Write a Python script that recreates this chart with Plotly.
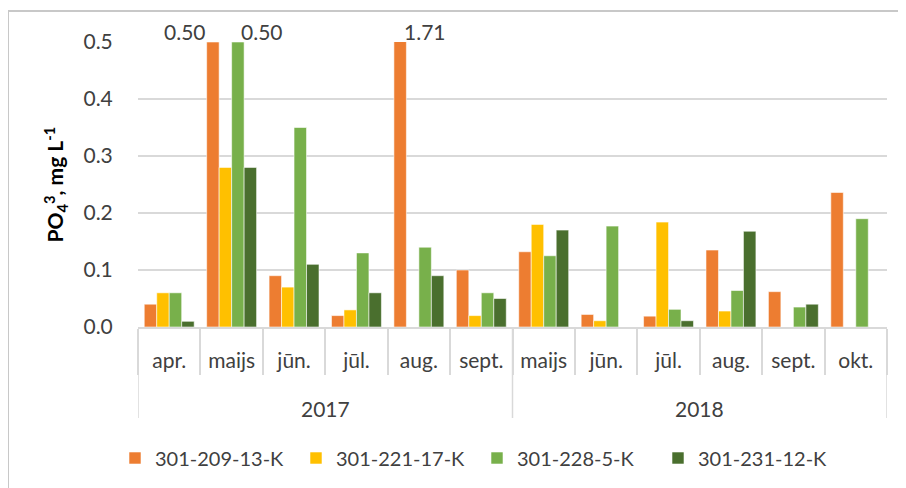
import plotly.graph_objects as go

years = ["2017", "2018"]
year_months = [6, 6]
months = ["apr.", "maijs", "jūn.", "jūl.", "aug.", "sept.",
          "maijs", "jūn.", "jūl.", "aug.", "sept.", "okt."]

series_names = ["301-209-13-K", "301-221-17-K", "301-228-5-K", "301-231-12-K"]
s_209 = [0.04, 0.50, 0.09, 0.02, 1.71, 0.10, 0.132, 0.022, 0.019, 0.135, 0.062, 0.236]
s_221 = [0.06, 0.28, 0.07, 0.03, None, 0.02, 0.180, 0.011, 0.184, 0.028, None, None]
s_228 = [0.06, 0.50, 0.35, 0.13, 0.14, 0.06, 0.125, 0.177, 0.031, 0.064, 0.035, 0.190]
s_231 = [0.01, 0.28, 0.11, 0.06, 0.09, 0.05, 0.170, None, 0.011, 0.168, 0.040, None]
colors = ["#ED7D31", "#FFC000", "#78B04B", "#4A6F2E"]

# value labels of clipped bars: (category index, series index, text, pixel shift)
value_labels = [(1, 0, "0.50", -28), (1, 2, "0.50", 24), (4, 0, "1.71", 25)]

FONT = "Lato, Carlito, Calibri, sans-serif"
TXT = "#404040"
GRID = "#d9d9d9"
W, H = 898, 480
ML, MR, MT, MB = 130, 19, 34, 161
PW, PH = W - ML - MR, H - MT - MB


def py(px):  # figure pixel row -> paper y
    return (MT + PH - px) / PH


def pxx(px):  # figure pixel column -> paper x
    return (px - ML) / PW


n = len(months)
xs = list(range(n))

fig = go.Figure()
for name, vals, col in zip(series_names, [s_209, s_221, s_228, s_231], colors):
    fig.add_trace(go.Bar(
        x=xs, y=vals, name=name,
        marker=dict(color=col, line=dict(color="rgba(255,255,255,0.8)", width=0.7)),
    ))

nser = len(series_names)
bargap = 0.2
slot = (1 - bargap) / nser
annotations = []
for ci, si, txt, shift in value_labels:
    annotations.append(dict(
        x=ci + (si - (nser - 1) / 2) * slot, xref="x", y=py(24), yref="paper",
        text=txt, showarrow=False, xshift=shift,
        font=dict(family=FONT, size=21, color=TXT), xanchor="center", yanchor="middle",
    ))

# year (outer category) labels and dividers
shapes = []
start = 0
bounds = [-0.5]
for yr, cnt in zip(years, year_months):
    annotations.append(dict(
        x=start + (cnt - 1) / 2, xref="x", y=py(400), yref="paper", text=yr,
        showarrow=False, font=dict(family=FONT, size=21, color=TXT),
        xanchor="center", yanchor="middle",
    ))
    start += cnt
    bounds.append(start - 0.5)
for b in bounds:
    shapes.append(dict(type="line", xref="x", yref="paper", x0=b, x1=b,
                       y0=0, y1=py(410), line=dict(color=GRID, width=1.5)))

# y-axis title
annotations.append(dict(
    x=pxx(47), xref="paper", y=0.5, yref="paper", textangle=-90,
    text="<b>PO<sub>4</sub><sup>3</sup>, mg L<sup>-1</sup></b>", showarrow=False,
    font=dict(family=FONT, size=21, color="#000000"), xanchor="center", yanchor="middle",
))

# outer chart border
shapes.append(dict(type="rect", xref="paper", yref="paper",
                   x0=pxx(0), x1=pxx(W + 10), y0=py(3), y1=py(H + 10),
                   line=dict(color="#c8c8c8", width=2), layer="below"))

fig.update_layout(
    width=W, height=H,
    margin=dict(l=ML, r=MR, t=MT, b=MB, autoexpand=False),
    paper_bgcolor="white", plot_bgcolor="white",
    barmode="group", bargap=bargap, bargroupgap=0,
    font=dict(family=FONT, size=21, color=TXT),
    showlegend=True,
    legend=dict(orientation="h", x=pxx(107), xanchor="left",
                y=py(450), yanchor="middle",
                font=dict(family=FONT, size=20, color=TXT),
                itemwidth=30, traceorder="normal",
                entrywidth=136, entrywidthmode="pixels"),
    annotations=annotations,
    shapes=shapes,
)
fig.update_xaxes(
    range=[-0.5, n - 0.5], tickmode="array", tickvals=xs, ticktext=months,
    showgrid=False, showline=True, linecolor=GRID, linewidth=1.5, zeroline=False,
    ticks="outside", ticklen=14, tickcolor="rgba(0,0,0,0)",
    minor=dict(tickmode="array", tickvals=bounds[:1] + [i + 0.5 for i in xs],
               ticks="outside", ticklen=46, tickcolor=GRID, tickwidth=1.5, showgrid=False),
    tickfont=dict(family=FONT, size=21, color=TXT), automargin=False, fixedrange=True,
)
fig.update_yaxes(
    range=[0, 0.5], dtick=0.1, tickformat=".1f", showgrid=True, gridcolor=GRID, gridwidth=1.5,
    zeroline=False, showline=False, ticks="outside", ticklen=20, tickcolor="rgba(0,0,0,0)",
    tickfont=dict(family=FONT, size=21, color=TXT), automargin=False,
)

fig.write_html("out.html")
